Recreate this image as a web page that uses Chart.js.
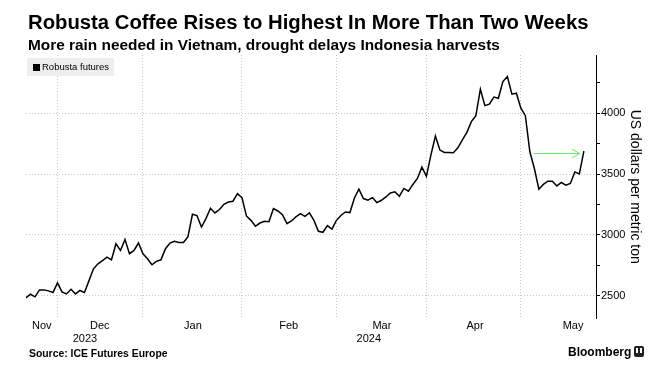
<!DOCTYPE html>
<html>
<head>
<meta charset="utf-8">
<script src="https://cdn.jsdelivr.net/npm/chart.js@4.4.1/dist/chart.umd.min.js"></script>
<style>
  body { margin: 0; background: #fff; overflow: hidden; font-family: "Liberation Sans", Arial, sans-serif; color: #000; }
  #wrap { position: relative; width: 661px; height: 369px; }
  #chart { position: absolute; left: 0; top: 0; }
  .title { position: absolute; left: 28px; top: 11px; font-size: 20.3px; line-height: 22px; font-weight: bold; white-space: nowrap; }
  .subtitle { position: absolute; left: 28px; top: 36px; font-size: 15.4px; line-height: 17px; font-weight: bold; white-space: nowrap; }
  .legend { position: absolute; left: 27px; top: 58px; height: 18px; padding: 0 5px 0 6px; background: #eeeeee; font-size: 9.5px; line-height: 18px; }
  .legend i { display: inline-block; width: 7px; height: 7px; background: #000; margin-right: 2px; vertical-align: -0.5px; }
  .source { position: absolute; left: 29px; top: 348px; font-size: 10.4px; line-height: 12px; font-weight: bold; }
  .brand { position: absolute; left: 568px; top: 345px; font-size: 12px; line-height: 14px; font-weight: bold; }
  .brand b { display: inline-block; width: 10px; height: 11px; background: #222; border-radius: 2px; margin-left: 3px; vertical-align: -1px; position: relative; }
  .brand b:after { content: ""; position: absolute; left: 2px; top: 2px; width: 6px; height: 5px; border-left: 2px solid #fff; border-right: 2px solid #fff; box-sizing: border-box; }
</style>
</head>
<body>
<div id="wrap">
  <canvas id="chart" width="661" height="369"></canvas>
  <div class="title">Robusta Coffee Rises to Highest In More Than Two Weeks</div>
  <div class="subtitle">More rain needed in Vietnam, drought delays Indonesia harvests</div>
  <div class="legend"><i></i>Robusta futures</div>
  <div class="source">Source: ICE Futures Europe</div>
  <div class="brand">Bloomberg<b></b></div>
</div>
<script>
// daily settlement, one value per trading day (Nov 22 2023 .. May 22 2024)
const prices = [
  2484, 2513, 2492, 2549, 2549, 2541, 2527,
  2607, 2533, 2516, 2554, 2516, 2544, 2527, 2625, 2722, 2763,
  2790, 2818, 2796, 2928, 2873, 2964, 2846, 2873, 2934,
  2846, 2805, 2755, 2783, 2796, 2887, 2934, 2948, 2939, 2939,
  2986, 3170, 3159, 3065, 3134, 3219, 3181, 3209, 3252, 3271, 3277, 3340,
  3307, 3156, 3120, 3071, 3098, 3112, 3109, 3217, 3197, 3167, 3093,
  3115, 3148, 3176, 3153, 3181, 3120, 3030, 3022, 3077, 3049,
  3120, 3160, 3189, 3184, 3304, 3376, 3299, 3285, 3307, 3266,
  3285, 3312, 3345, 3354, 3318, 3382, 3359, 3415, 3464, 3557,
  3483, 3656, 3813, 3697, 3678, 3678, 3675, 3716, 3780, 3843,
  3931, 3980, 4197, 4062, 4074, 4132, 4123, 4260, 4301, 4156, 4164,
  4041, 3980, 3683, 3546, 3376, 3415, 3442, 3442, 3403, 3431,
  3409, 3423, 3518, 3502, 3689
];

// index of first trading day of each month (Dec..May)
const monthStarts = [7, 26, 48, 69, 89, 110];
const monthNames = ['Nov', 'Dec', 'Jan', 'Feb', 'Mar', 'Apr', 'May'];
const monthLabelAt = [3.5, 16.4, 37.1, 58.4, 79.1, 99.8, 121.6];
const yearNames = ['2023', '2024'];
const yearLabelAt = [13.1, 76.2];
const yTicks = [2500, 2750, 3000, 3250, 3500, 3750, 4000, 4250];

// arrow annotation: from / to (day index) at price level
const arrowFrom = 112.9, arrowTo = 123.1, arrowLevel = 3675;

const xMax = 126.7;
const yMin = 2314, yMax = 4478;

Chart.defaults.font.family = '"Liberation Sans", Arial, sans-serif';
Chart.defaults.color = '#000';

const arrowPlugin = {
  id: 'arrow',
  afterDatasetsDraw(chart) {
    const ctx = chart.ctx;
    const x = chart.scales.x, y = chart.scales.y;
    const x1 = x.getPixelForValue(arrowFrom);
    const x2 = x.getPixelForValue(arrowTo);
    const yy = Math.round(y.getPixelForValue(arrowLevel)) + 0.5;
    ctx.save();
    ctx.strokeStyle = '#66ee66';
    ctx.lineWidth = 1;
    ctx.beginPath();
    ctx.moveTo(x1, yy);
    ctx.lineTo(x2, yy);
    ctx.moveTo(x2 - 8, yy - 4.5);
    ctx.lineTo(x2, yy);
    ctx.lineTo(x2 - 8, yy + 4.5);
    ctx.stroke();
    ctx.restore();
  }
};

function labelAxis(positions, names, weight, pad) {
  return {
    type: 'linear', position: 'bottom', min: 0, max: xMax, weight: weight,
    afterBuildTicks: function (s) { s.ticks = positions.map(v => ({ value: v })); },
    afterFit: function (s) { s.height = 14; },
    ticks: { autoSkip: false, maxRotation: 0, padding: pad, font: { size: 11 },
             callback: function (v, i) { return names[i]; } },
    grid: { display: false, drawTicks: false },
    border: { display: false }
  };
}

new Chart(document.getElementById('chart'), {
  type: 'line',
  data: {
    datasets: [{
      label: 'Robusta futures',
      data: prices.map((v, i) => ({ x: i, y: v })),
      borderColor: '#000',
      borderWidth: 1.5,
      pointRadius: 0,
      tension: 0,
      xAxisID: 'x',
      yAxisID: 'y'
    }]
  },
  options: {
    responsive: false,
    animation: false,
    devicePixelRatio: 1,
    layout: { padding: { top: 55, left: 26, right: 0, bottom: 22.5 } },
    plugins: { legend: { display: false }, tooltip: { enabled: false } },
    scales: {
      x: {
        type: 'linear', position: 'bottom', min: 0, max: xMax, weight: 0,
        afterBuildTicks: function (s) { s.ticks = monthStarts.map(v => ({ value: v })); },
        afterFit: function (s) { s.height = 0; },
        ticks: { display: false },
        grid: { color: '#c8c8c8', drawTicks: false },
        border: { display: false, dash: [1, 2] }
      },
      xm: labelAxis(monthLabelAt, monthNames, 1, 1),
      xy: labelAxis(yearLabelAt, yearNames, 2, 0),
      y: {
        position: 'right', min: yMin, max: yMax,
        afterBuildTicks: function (s) { s.ticks = yTicks.map(v => ({ value: v })); },
        afterFit: function (s) { s.width = 65; },
        ticks: { padding: 1, font: { size: 11 },
                 callback: function (v) { return v % 500 === 0 ? String(v) : ''; } },
        grid: {
          color: function (c) { return c.tick && c.tick.value % 500 === 0 ? '#c8c8c8' : 'rgba(0,0,0,0)'; },
          tickColor: '#000', tickLength: 4
        },
        border: { display: true, color: '#000', width: 1, dash: [1, 2] },
        title: { display: true, text: 'US dollars per metric ton', font: { size: 14 }, padding: { top: 18, bottom: 0 } }
      }
    }
  },
  plugins: [arrowPlugin]
});
</script>
</body>
</html>
